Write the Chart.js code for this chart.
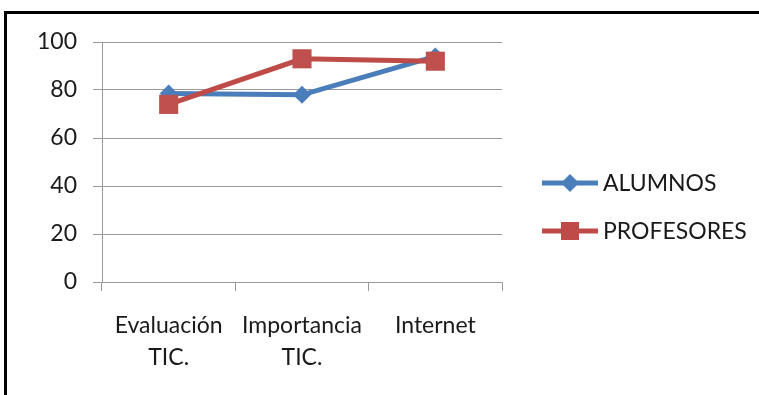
<!DOCTYPE html>
<html>
<head>
<meta charset="utf-8">
<script src="https://cdn.jsdelivr.net/npm/chart.js@4/dist/chart.umd.min.js"></script>
<style>
  html, body { margin: 0; padding: 0; background: #fff; }
  #wrap { position: relative; width: 759px; height: 395px; }
</style>
</head>
<body>
<div id="wrap"><canvas id="c" width="759" height="395"></canvas></div>
<script>
// Categories (two-line labels) and series values
const categories = [['Evaluación', 'TIC.'], ['Importancia', 'TIC.'], ['Internet']];
const alumnos = [78.5, 78, 94];
const profesores = [74, 93, 92];
const yTicks = [0, 20, 40, 60, 80, 100];

const BLUE = '#4A7EBB';
const RED = '#BE4B48';
const GRID = '#9a9a9a';
const FONT = 'Lato, "Open Sans", sans-serif';
const FONT_SIZE = 23;

// Black frame along the left and top edges
const framePlugin = {
  id: 'frame',
  beforeDraw(chart) {
    const ctx = chart.ctx;
    ctx.save();
    ctx.fillStyle = '#000';
    ctx.fillRect(4, 11, 3, chart.height - 11);
    ctx.fillRect(4, 11, chart.width - 4, 3);
    ctx.restore();
  }
};

// Legend on the right: line with marker, then series name
const legendPlugin = {
  id: 'sideLegend',
  afterDraw(chart) {
    const ctx = chart.ctx;
    const area = chart.chartArea;
    const x0 = area.right + 40;
    const x1 = x0 + 56;
    const items = [
      { name: 'ALUMNOS', color: BLUE, style: 'diamond', y: 183 },
      { name: 'PROFESORES', color: RED, style: 'square', y: 231 }
    ];
    ctx.save();
    items.forEach(it => {
      ctx.strokeStyle = it.color;
      ctx.lineWidth = 5;
      ctx.beginPath();
      ctx.moveTo(x0, it.y);
      ctx.lineTo(x1, it.y);
      ctx.stroke();
      const cx = (x0 + x1) / 2;
      ctx.fillStyle = it.color;
      ctx.beginPath();
      if (it.style === 'diamond') {
        const r = 9;
        ctx.moveTo(cx, it.y - r);
        ctx.lineTo(cx + r, it.y);
        ctx.lineTo(cx, it.y + r);
        ctx.lineTo(cx - r, it.y);
        ctx.closePath();
      } else {
        ctx.rect(cx - 9, it.y - 9, 18, 18);
      }
      ctx.fill();
      ctx.fillStyle = '#1a1a1a';
      ctx.font = FONT_SIZE + 'px ' + FONT;
      ctx.textBaseline = 'middle';
      ctx.textAlign = 'left';
      ctx.fillText(it.name, x1 + 5, it.y + 1);
    });
    ctx.restore();
  }
};

new Chart(document.getElementById('c'), {
  type: 'line',
  data: {
    labels: categories,
    datasets: [
      {
        label: 'ALUMNOS',
        data: alumnos,
        borderColor: BLUE,
        backgroundColor: BLUE,
        borderWidth: 5,
        pointStyle: 'rectRot',
        pointRadius: 9,
        pointHoverRadius: 9,
        pointBorderWidth: 0,
        tension: 0,
        clip: false,
        order: 1
      },
      {
        label: 'PROFESORES',
        data: profesores,
        borderColor: RED,
        backgroundColor: '#C0504D',
        borderWidth: 5,
        pointStyle: 'rect',
        pointRadius: 13.5,
        pointHoverRadius: 13.5,
        pointBorderWidth: 0,
        tension: 0,
        clip: false,
        order: 0
      }
    ]
  },
  options: {
    responsive: false,
    animation: false,
    devicePixelRatio: 1,
    layout: { padding: { left: 30, right: 257, top: 42, bottom: 0 } },
    plugins: {
      legend: { display: false },
      tooltip: { enabled: false }
    },
    scales: {
      x: {
        offset: true,
        grid: {
          offset: true,
          drawOnChartArea: false,
          drawTicks: true,
          tickLength: 9,
          color: GRID,
          lineWidth: 1
        },
        border: { display: true, color: GRID, width: 1 },
        ticks: {
          color: '#1a1a1a',
          font: { family: FONT, size: FONT_SIZE, lineHeight: 1.4 },
          padding: 18,
          maxRotation: 0,
          autoSkip: false
        },
        afterFit(scale) { scale.height = 113; }
      },
      y: {
        min: 0,
        max: 100,
        afterBuildTicks(scale) { scale.ticks = yTicks.map(v => ({ value: v })); },
        grid: {
          color: GRID,
          lineWidth: 1,
          tickLength: 9,
          drawTicks: true
        },
        border: { display: true, color: GRID, width: 1 },
        ticks: {
          color: '#1a1a1a',
          font: { family: FONT, size: FONT_SIZE },
          padding: 16
        },
        afterFit(scale) { scale.width = 72; }
      }
    }
  },
  plugins: [framePlugin, legendPlugin]
});
</script>
</body>
</html>
